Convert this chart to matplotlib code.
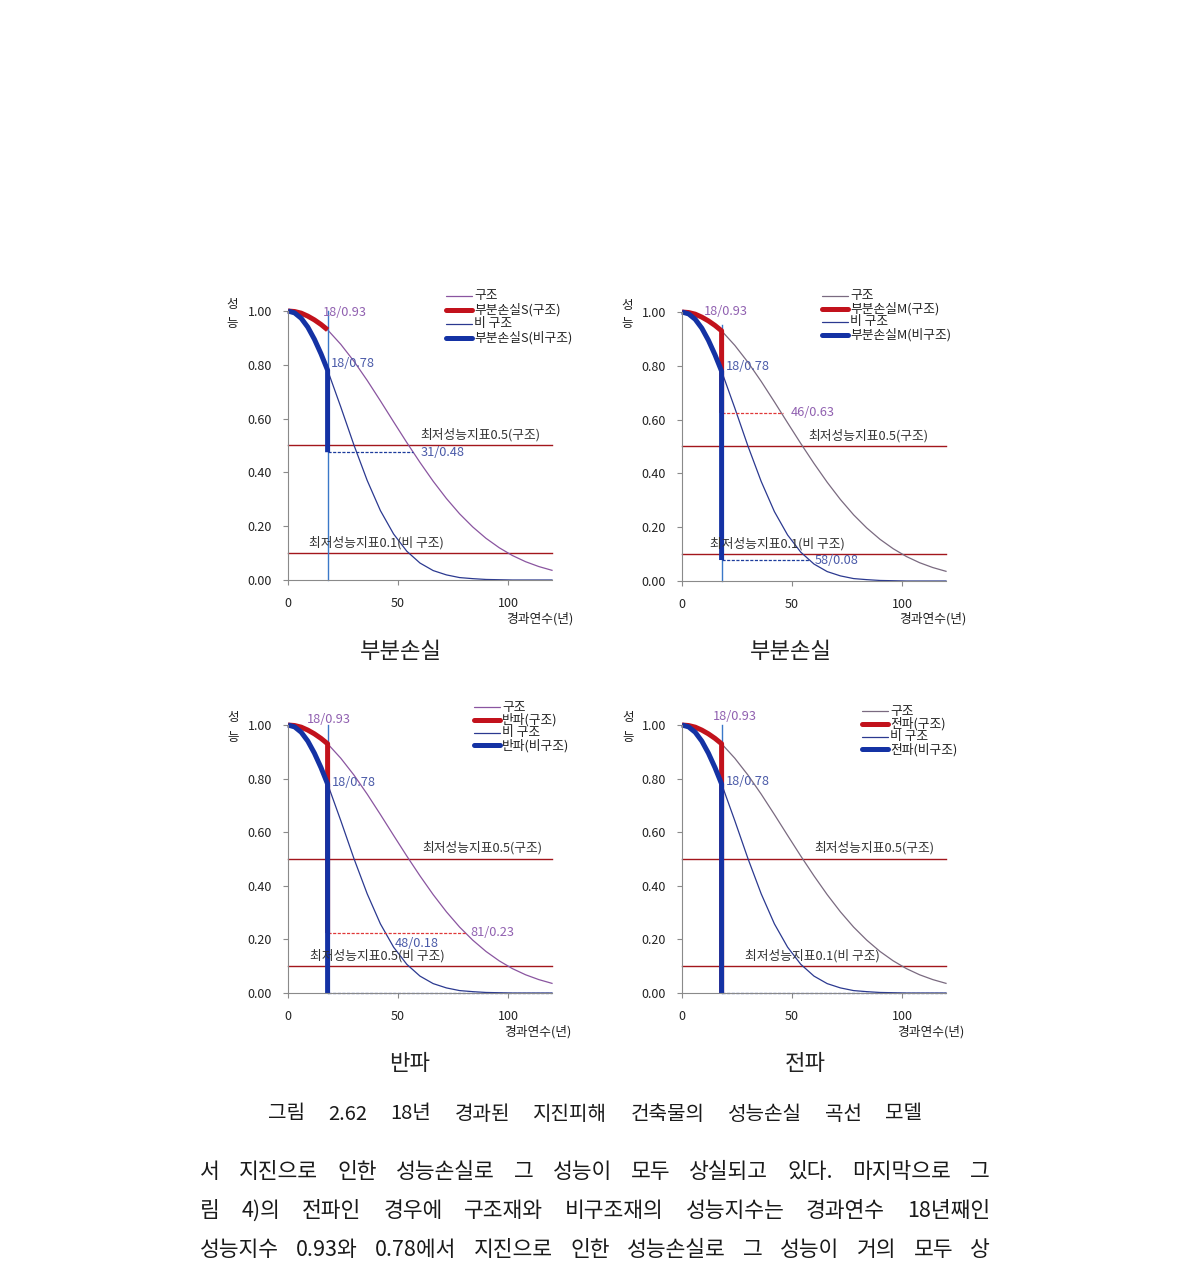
import matplotlib
matplotlib.use("Agg")
import matplotlib.pyplot as plt
from matplotlib.lines import Line2D

plt.rcParams['font.family'] = ['Noto Sans CJK KR', 'DejaVu Sans']

W, H = 1190, 1282

# data
loss_year = 18
years_pre = [0, 3, 6, 9, 12, 15, 18]
struct_pre = [1.000, 0.998, 0.992, 0.981, 0.967, 0.950, 0.930]
nonstruct_pre = [1.000, 0.993, 0.973, 0.940, 0.895, 0.841, 0.780]

years_post = [18, 24, 30, 36, 42, 48, 54, 60, 66, 72, 78, 84, 90, 96, 102, 108, 114, 120]
struct_post = [0.930, 0.876, 0.813, 0.742, 0.666, 0.588, 0.511, 0.437, 0.367, 0.303,
               0.246, 0.197, 0.155, 0.120, 0.091, 0.068, 0.050, 0.036]
nonstruct_post = [0.780, 0.643, 0.501, 0.370, 0.258, 0.171, 0.107, 0.063, 0.035, 0.019,
                  0.009, 0.005, 0.002, 0.001, 0.000, 0.000, 0.000, 0.000]

struct_after = [0.930, 0.625, 0.224, 0.000]
nonstruct_after = [0.475, 0.078, 0.000, 0.000]

panel_titles = ["부분손실", "부분손실", "반파", "전파"]
loss_names = ["부분손실S", "부분손실M", "반파", "전파"]
low_labels = ["최저성능지표0.1(비 구조)", "최저성능지표0.1(비 구조)",
              "최저성능지표0.5(비 구조)", "최저성능지표0.1(비 구조)"]
high_label = "최저성능지표0.5(구조)"

# dashed guide lines: (panel, kind, y, x_end, label, label_x)
guides = [
    (0, "n", 0.475, 57, "31/0.48", 60.5),
    (1, "s", 0.625, 46, "46/0.63", 49.5),
    (1, "n", 0.078, 58, "58/0.08", 60.5),
    (2, "s", 0.224, 81, "81/0.23", 83),
    (2, "n", 0.000, 120, "", 0),
    (3, "n", 0.000, 120, "", 0),
]
extra_labels = [(2, 48.5, 0.183, "48/0.18")]

# layout (pixels)
boxes = [(288, 311, 580), (682, 312, 581), (288, 725, 993), (682, 725, 993)]
vline_top = [1.0, 0.95, 1.0, 1.0]
lbl93 = [(16, 0.995), (10, 1.0), (8.5, 1.02), (14, 1.03)]
lbl78 = [(19.5, 0.805), (19.8, 0.797), (20, 0.787), (20, 0.79)]
high_x = [60, 57.3, 61, 60]
low_x = [9.5, 12.7, 10, 28.6]
legend_pos = [(446, 296, 14), (822, 296, 13), (474, 707, 12.8), (862, 711, 12.8)]
title_pos = [(401, 651), (791, 651), (410, 1063), (805, 1063)]
xlab_pos = [(540, 619), (933, 619), (538, 1032), (931, 1032)]
ylab_x = [232, 627, 233, 628]

c_struct = ['#8a55a0', '#7a6a80', '#8a55a0', '#7a6a80']
c_non = '#2b3990'
c_red = '#c2121c'
c_blue = '#1432a4'
c_thr = '#a3161c'
c_vline = '#3a78c8'
c_pur_txt = '#9060b0'
c_blu_txt = '#4a5aa8'

fs = 9.2

fig = plt.figure(figsize=(W / 100, H / 100), dpi=100)


def ftext(x, y, s, **kw):
    return fig.text(x / W, 1 - y / H, s, **kw)


for i, (left, top, bottom) in enumerate(boxes):
    ax = fig.add_axes([left / W, 1 - bottom / H, 264 / W, (bottom - top) / H])
    ax.set_xlim(0, 120)
    ax.set_ylim(0, 1.0)
    for sp in ['top', 'right']:
        ax.spines[sp].set_visible(False)
    for sp in ['left', 'bottom']:
        ax.spines[sp].set_color('#8a8a8a')
        ax.spines[sp].set_linewidth(0.8)
    ax.set_xticks([0, 50, 100])
    ax.set_yticks([0, 0.2, 0.4, 0.6, 0.8, 1.0])
    ax.set_yticklabels(["%.2f" % v for v in [0, 0.2, 0.4, 0.6, 0.8, 1.0]])
    ax.tick_params(axis='both', direction='out', length=3.5, width=0.8,
                   color='#8a8a8a', labelsize=9, labelcolor='#222222')
    ax.tick_params(axis='y', pad=8)
    ax.tick_params(axis='x', pad=9)

    # thresholds
    ax.plot([0, 120], [0.5, 0.5], color=c_thr, lw=1.0, clip_on=False)
    ax.plot([0, 120], [0.1, 0.1], color=c_thr, lw=1.0, clip_on=False)
    ax.text(high_x[i], 0.515, high_label, fontsize=fs, color='#333333', va='bottom')
    ax.text(low_x[i], 0.115, low_labels[i], fontsize=fs, color='#333333', va='bottom')

    # thin curves
    ax.plot(years_post, struct_post, color=c_struct[i], lw=0.9, clip_on=False)
    ax.plot(years_post, nonstruct_post, color=c_non, lw=0.9, clip_on=False)

    # year marker
    ax.plot([loss_year, loss_year], [0, vline_top[i]], color=c_vline, lw=1.0, clip_on=False)

    # guides
    for g in guides:
        if g[0] != i:
            continue
        col = '#e03838' if g[1] == "s" else '#1c3c9c'
        ax.plot([loss_year, g[3]], [g[2], g[2]], color=col, lw=0.9,
                ls=(0, (2.5, 1.2)), clip_on=False)
        if g[4]:
            ax.text(g[5], g[2], g[4], fontsize=fs, va='center',
                    color=c_pur_txt if g[1] == "s" else c_blu_txt)
    for e in extra_labels:
        if e[0] == i:
            ax.text(e[1], e[2], e[3], fontsize=fs, va='center', color=c_blu_txt)

    # thick loss curves
    ax.plot(years_pre + [loss_year], struct_pre + [struct_after[i]], color=c_red,
            lw=3.6, solid_capstyle='butt', solid_joinstyle='round', clip_on=False)
    ax.plot(years_pre + [loss_year], nonstruct_pre + [nonstruct_after[i]], color=c_blue,
            lw=3.6, solid_capstyle='butt', solid_joinstyle='round', clip_on=False)

    ax.text(lbl93[i][0], lbl93[i][1], "%d/%.2f" % (loss_year, 0.93), fontsize=fs,
            color=c_pur_txt, va='center', clip_on=False)
    ax.text(lbl78[i][0], lbl78[i][1], "%d/%.2f" % (loss_year, 0.78), fontsize=fs,
            color=c_blu_txt, va='center')

    # legend drawn by hand
    lx, ly, dy = legend_pos[i]
    entries = [("구조", c_struct[i], 0.9), (loss_names[i] + "(구조)", c_red, 3.6),
               ("비 구조", c_non, 0.9), (loss_names[i] + "(비구조)", c_blue, 3.6)]
    for k, (lab, col, lw) in enumerate(entries):
        yy = ly + k * dy
        fig.add_artist(Line2D([lx / W, (lx + 26) / W], [1 - yy / H, 1 - yy / H],
                              color=col, lw=lw, solid_capstyle='round'))
        ftext(lx + 28, yy, lab, fontsize=fs, va='center', color='#222222')

    # axis texts
    ftext(ylab_x[i], top - 7, "성", fontsize=9, ha='center', va='center', color='#222222')
    ftext(ylab_x[i], top + 12, "능", fontsize=9, ha='center', va='center', color='#222222')
    ftext(xlab_pos[i][0], xlab_pos[i][1], "경과연수(년)", fontsize=fs, ha='center',
          va='center', color='#222222')
    ftext(title_pos[i][0], title_pos[i][1], panel_titles[i], fontsize=16,
          ha='center', va='center', color='#222222')


def justify(words, x0, x1, y, size):
    texts = [ftext(0, y, w, fontsize=size, va='center', ha='left', color='#1a1a1a')
             for w in words]
    r = fig.canvas.get_renderer()
    widths = [t.get_window_extent(r).width for t in texts]
    gap = (x1 - x0 - sum(widths)) / (len(words) - 1)
    x = x0
    for t, wd in zip(texts, widths):
        t.set_x(x / W)
        x += wd + gap


caption = "그림 2.62 18년 경과된 지진피해 건축물의 성능손실 곡선 모델"
body = [
    "서 지진으로 인한 성능손실로 그 성능이 모두 상실되고 있다. 마지막으로 그",
    "림 4)의 전파인 경우에 구조재와 비구조재의 성능지수는 경과연수 18년째인",
    "성능지수 0.93와 0.78에서 지진으로 인한 성능손실로 그 성능이 거의 모두 상",
]

justify(caption.split(), 268, 922, 1114, 14.5)
for j, line in enumerate(body):
    justify(line.split(), 200, 990, 1172 + j * 39, 15.5)

fig.savefig("out.png", dpi=100)
